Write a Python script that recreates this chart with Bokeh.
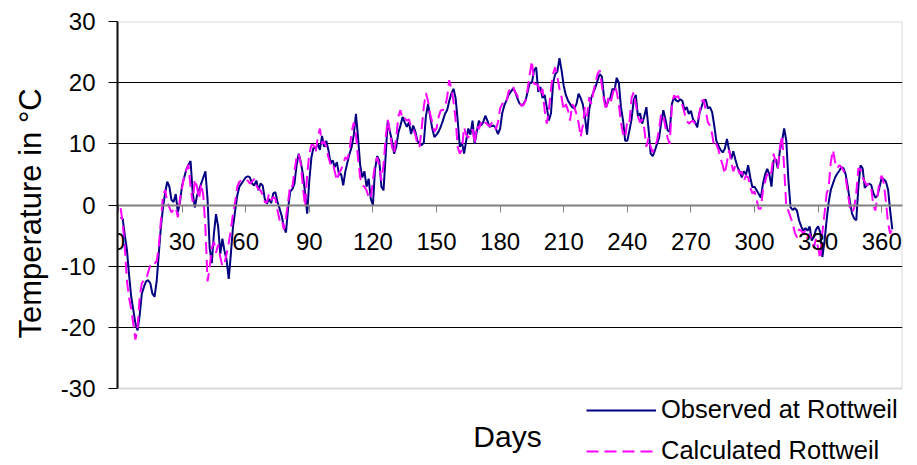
from bokeh.plotting import figure
from bokeh.models import Range1d, FixedTicker, Legend, LegendItem, Label, BoxAnnotation, Title
from bokeh.embed import file_html
from bokeh.resources import INLINE

days = list(range(1, 366))

observed = [
    -2.0, -2.3, -5.0, -7.4, -11.5, -15.0, -17.2, -19.4, -20.5, -18.0,
    -14.5, -13.4, -12.5, -12.3, -12.8, -14.5, -15.0, -12.5, -8.0, -3.6,
    -0.4, 2.0, 3.8, 3.0, 0.8, 0.5, 1.8, -1.2, 0.5, 3.2,
    4.5, 5.8, 6.6, 7.2, 2.0, -0.4, 1.5, 2.5, 3.5, 4.5,
    5.5, 1.0, -7.0, -9.5, -4.7, -1.5, -3.5, -8.0, -5.5, -7.5,
    -9.0, -12.1, -8.0, -3.6, -1.0, 1.5, 3.0, 3.5, 4.0, 4.5,
    4.7, 4.5, 3.5, 3.2, 4.0, 2.4, 3.5, 3.2, 1.0, 0.2,
    1.0, 0.3, 1.9, 2.1, 0.5, -0.6, -1.8, -3.6, -4.5, -0.5,
    2.2, 2.6, 3.5, 6.5, 8.4, 7.0, 5.0, 2.0, -1.4, 4.0,
    7.8, 9.4, 9.2, 10.0, 9.0, 11.3, 9.5, 10.5, 9.0, 6.8,
    7.3, 6.2, 7.0, 5.0, 5.1, 3.2, 5.5, 7.0, 8.4, 9.5,
    11.5, 14.9, 11.0, 6.5, 4.5, 5.5, 3.0, 4.3, 1.0, 0.0,
    5.8, 8.0, 7.3, 3.0, 2.4, 8.0, 13.8, 12.0, 10.5, 8.4,
    9.5, 11.8, 13.0, 14.4, 13.5, 12.8, 13.5, 11.6, 13.0, 12.0,
    10.5, 10.0, 9.8, 10.2, 14.5, 16.5, 14.5, 12.5, 11.1, 11.5,
    12.0, 12.8, 13.8, 14.9, 15.5, 17.0, 18.2, 19.0, 17.5, 13.8,
    9.5, 10.2, 8.4, 10.5, 12.5, 11.5, 13.8, 10.0, 12.0, 13.8,
    13.0, 13.5, 14.6, 13.8, 12.8, 12.9, 13.0, 12.5, 11.6, 12.5,
    15.0, 16.3, 17.1, 18.0, 18.5, 19.0, 18.6, 17.6, 16.7, 16.3,
    16.5, 17.1, 18.5, 20.0, 20.0, 22.0, 22.5, 18.5, 19.3, 17.5,
    18.0, 16.0, 13.8, 15.0, 20.0, 21.4, 21.8, 24.0, 22.0, 19.5,
    18.0, 17.1, 16.5, 16.0, 15.8, 16.5, 18.2, 17.5, 16.5, 14.4,
    11.5, 15.5, 17.5, 18.4, 19.3, 20.4, 21.4, 21.0, 17.6, 16.0,
    17.0, 17.5, 19.0, 18.8, 20.8, 20.0, 16.0, 13.8, 10.5, 10.5,
    12.2, 14.0, 17.1, 18.0, 14.5, 15.0, 13.3, 14.5, 16.0, 12.5,
    8.4, 8.0, 8.9, 10.0, 11.0, 13.5, 15.5, 14.0, 12.2, 12.0,
    16.5, 17.6, 17.1, 16.9, 17.3, 17.0, 15.5, 16.0, 14.9, 15.4,
    14.0, 13.5, 12.7, 15.0, 16.0, 17.1, 17.2, 15.8, 16.0, 15.2,
    13.0, 10.5, 9.7, 9.0, 8.6, 9.2, 10.8, 9.0, 7.5, 8.8,
    7.4, 6.2, 5.5, 4.5, 5.5, 5.0, 6.5, 4.5, 2.9, 3.0,
    2.4, 1.8, 1.2, 3.5, 5.0, 5.9, 5.0, 3.0, 7.3, 7.5,
    6.0, 9.0, 10.5, 12.5, 10.5, 4.0, -0.4, -0.8, -0.5, -0.9,
    -2.5, -3.5, -4.2, -3.8, -4.2, -3.5, -5.8, -5.2, -4.0, -3.5,
    -4.5, -8.5, -6.0, -2.5, 0.5, 2.5, 3.5, 4.5, 5.1, 5.6,
    6.2, 6.0, 5.0, 3.0, 0.5, -1.4, -2.2, -2.5, 3.0, 6.5,
    6.0, 2.8, 3.2, 3.5, 3.3, 2.0, 1.2, 1.5, 3.0, 4.5,
    4.2, 3.8, 2.5, -1.0, -4.0,
]

calculated = [
    -0.5, -3.0, -7.0, -12.5, -15.2, -17.0, -19.5, -22.0, -20.0, -15.0,
    -12.8, -12.3, -12.2, -11.0, -9.8, -10.0, -9.6, -9.2, -6.9, -2.5,
    1.5, 2.5, 0.5, -0.4, -1.2, -0.8, -0.4, -2.0, 1.0, 2.8,
    4.8, 5.8, 6.6, 2.9, 0.5, 4.2, 3.0, 1.0, 3.5, 1.5,
    -3.6, -12.5, -10.2, -7.0, -6.0, -7.8, -6.5, -8.5, -10.0, -9.5,
    -8.0, -6.2, -4.0, -1.5, 0.5, 3.0, 3.8, 4.0, 4.2, 4.0,
    4.0, 3.5, 3.8, 4.3, 3.2, 2.6, 2.4, 1.6, 0.5, 0.4,
    1.8, 0.8, 1.3, 1.0, -0.9, -2.5, -2.2, -4.0, -2.0, 0.5,
    3.3, 3.0, 5.5, 7.8, 8.4, 6.7, 3.0, -0.3, 5.0, 8.4,
    9.8, 9.8, 8.6, 11.0, 12.5, 10.0, 10.4, 9.5, 7.8, 6.7,
    7.0, 5.5, 4.0, 5.2, 5.8, 6.7, 7.8, 7.5, 9.0, 12.0,
    13.5, 11.5, 7.5, 4.5, 3.2, 3.0, 2.4, 1.3, 1.0, 4.0,
    6.7, 7.8, 6.5, 4.0, 6.5, 11.0, 14.0, 12.0, 9.5, 8.4,
    11.0, 14.5, 15.5, 14.0, 14.2, 13.8, 14.0, 12.8, 12.5, 11.5,
    10.0, 9.5, 12.5, 16.0, 18.3, 17.0, 14.9, 13.5, 12.0, 12.5,
    14.4, 15.5, 15.5, 16.0, 17.6, 20.4, 19.0, 17.0, 14.0, 9.5,
    8.4, 9.0, 12.7, 11.5, 11.0, 11.8, 12.4, 10.0, 13.0, 12.4,
    13.5, 12.9, 13.5, 13.2, 12.8, 13.4, 13.5, 12.4, 13.5, 15.8,
    16.5, 17.0, 16.8, 18.6, 19.0, 19.5, 18.5, 18.0, 17.0, 16.2,
    16.3, 17.1, 19.0, 21.4, 23.6, 19.8, 19.8, 19.5, 18.0, 19.0,
    15.5, 13.3, 15.5, 19.0, 21.5, 22.5, 21.0, 19.0, 17.6, 15.5,
    16.5, 15.5, 13.8, 16.5, 16.0, 14.9, 13.5, 11.1, 13.0, 16.0,
    14.5, 17.6, 16.5, 18.5, 20.0, 21.5, 22.0, 19.5, 17.1, 15.5,
    17.5, 16.5, 18.0, 19.5, 18.5, 16.5, 13.5, 11.6, 11.0, 13.8,
    13.5, 17.5, 18.4, 16.5, 14.5, 13.5, 14.0, 12.5, 9.5, 11.0,
    9.5, 8.6, 9.5, 10.5, 12.5, 15.0, 14.5, 12.7, 11.0, 10.0,
    16.0, 17.9, 17.6, 17.8, 16.8, 16.3, 15.0, 13.8, 13.3, 13.6,
    13.8, 13.3, 13.4, 15.0, 17.0, 17.2, 15.5, 13.5, 13.0, 11.6,
    9.5, 10.0, 9.0, 7.6, 6.5, 5.1, 7.0, 9.0, 7.0, 5.5,
    6.5, 6.0, 5.1, 5.5, 4.0, 4.8, 4.5, 2.9, 1.9, 2.2,
    0.8, -0.6, -0.6, 2.5, 3.8, 5.1, 4.5, 5.5, 8.4, 7.0,
    6.0, 9.5, 11.4, 6.0, -0.4, -1.0, -2.0, -3.0, -4.5, -5.3,
    -4.0, -4.2, -4.7, -4.2, -5.5, -4.7, -5.8, -6.9, -5.5, -7.0,
    -8.8, -4.5, -1.5, 1.8, 3.0, 7.0, 9.0, 7.0, 6.0, 6.5,
    6.2, 5.6, 4.5, 2.0, -0.4, -1.2, -0.5, 2.0, 6.0, 5.8,
    4.5, 3.8, 3.2, 3.5, 2.9, 0.0, -0.9, 1.5, 4.0, 4.8,
    3.5, 0.5, -3.0, -4.7, -3.8,
]

x_ticks = [0, 30, 60, 90, 120, 150, 180, 210, 240, 270, 300, 330, 360]
y_ticks = [-30, -20, -10, 0, 10, 20, 30]
grid_ticks = [-20, -10, 0, 10, 20]
series_labels = ["Observed at Rottweil", "Calculated Rottweil"]

FONT = "Liberation Sans"
OBS_COLOR = "#000080"
CALC_COLOR = "#FF00FF"
CALC_DASH = "12 6"

Y_MIN, Y_MAX = -30, 30
# the frame also holds the strip under the plot area (axis title + legend)
FRAME_H = 442
PLOT_H = 367
y_bottom = Y_MAX - FRAME_H * (Y_MAX - Y_MIN) / PLOT_H

p = figure(
    frame_width=785, frame_height=FRAME_H,
    x_range=Range1d(-0.47, 369.8), y_range=Range1d(y_bottom, Y_MAX),
    output_backend="svg", toolbar_location=None,
    min_border_left=117, min_border_right=14, min_border_top=21, min_border_bottom=1,
    background_fill_color="white", border_fill_color="white",
)
p.outline_line_color = None

# plot-area border (gray) around the -30..30 region
p.add_layout(BoxAnnotation(bottom=Y_MIN, top=Y_MAX, fill_alpha=0,
                           line_color="#808080", line_width=2))

p.xgrid.visible = False
p.ygrid.ticker = FixedTicker(ticks=grid_ticks)
p.ygrid.grid_line_color = "black"
p.ygrid.grid_line_width = 1

ya = p.yaxis[0]
ya.bounds = (Y_MIN, Y_MAX)
ya.ticker = FixedTicker(ticks=y_ticks)
ya.major_label_overrides = {t: str(t) for t in y_ticks}
ya.major_label_text_font = FONT
ya.major_label_text_font_size = "24px"
ya.major_label_text_color = "black"
ya.major_label_standoff = 13
ya.major_tick_out = 9
ya.major_tick_in = 0
ya.minor_tick_out = 0
ya.minor_tick_in = 0
ya.axis_line_color = "black"
ya.axis_line_width = 2
ya.major_tick_line_color = "black"

# y-axis title, placed beside the -30..30 plot area rather than the whole frame
p.add_layout(Title(text="Temperature in °C", align="left", offset=125,
                   text_font=FONT, text_font_size="31px", text_font_style="normal",
                   text_color="black", standoff=19), "left")

xa = p.xaxis[0]
xa.fixed_location = 0
xa.ticker = FixedTicker(ticks=x_ticks)
xa.major_label_overrides = {t: str(t) for t in x_ticks}
xa.major_label_text_font = FONT
xa.major_label_text_font_size = "24px"
xa.major_label_text_color = "black"
xa.major_label_standoff = 21
xa.major_tick_out = 7
xa.major_tick_in = 0
xa.minor_tick_out = 0
xa.minor_tick_in = 0
xa.axis_line_color = "#808080"
xa.axis_line_width = 2
xa.major_tick_line_color = "#808080"

r_obs = p.line(days, observed, line_color=OBS_COLOR, line_width=2)
r_calc = p.line(days, calculated, line_color=CALC_COLOR, line_width=2, line_dash=CALC_DASH)

legend = Legend(
    items=[LegendItem(label=series_labels[0], renderers=[r_obs]),
           LegendItem(label=series_labels[1], renderers=[r_calc])],
    location=(469, -2),
    label_text_font=FONT, label_text_font_size="25.5px", label_text_color="black",
    glyph_width=70, glyph_height=26, label_height=26, label_standoff=5,
    spacing=12, padding=0, margin=0,
    border_line_color=None, background_fill_alpha=0,
)
p.add_layout(legend)

p.add_layout(Label(x=183.5, y=-37.84, text="Days", text_align="center",
                   text_baseline="middle", text_font=FONT,
                   text_font_size="30px", text_color="black"))

open("out.html", "w").write(file_html(p, INLINE))
